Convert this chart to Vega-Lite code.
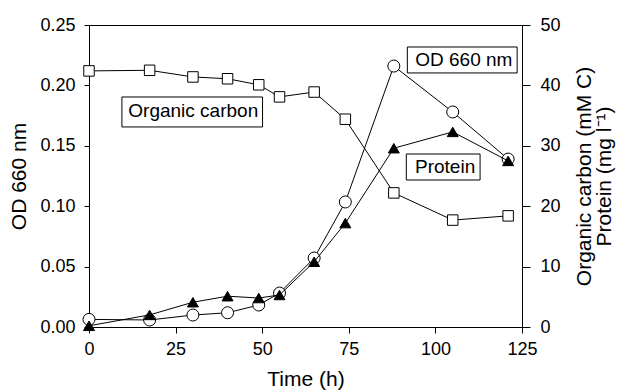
{
  "$schema": "https://vega.github.io/schema/vega-lite/v6.json",
  "width": 433,
  "height": 302,
  "autosize": {"type": "none"},
  "padding": {"left": 89, "top": 25, "right": 100, "bottom": 64},
  "background": "white",
  "config": {
    "font": "Liberation Sans",
    "view": {"stroke": "#000", "strokeWidth": 1},
    "axis": {
      "grid": false,
      "labelFlush": false,
      "labelOverlap": false,
      "domainColor": "#000",
      "tickColor": "#000",
      "labelColor": "#000",
      "titleColor": "#000",
      "labelFontSize": 18,
      "titleFontSize": 21,
      "titleFontWeight": "normal",
      "domainWidth": 1,
      "tickWidth": 1
    }
  },
  "datasets": {
    "od": [
      {"t": 0, "od": 0.0063},
      {"t": 17.5, "od": 0.0058},
      {"t": 30, "od": 0.0099},
      {"t": 40, "od": 0.0118},
      {"t": 49, "od": 0.0182},
      {"t": 55, "od": 0.0281},
      {"t": 65, "od": 0.0571},
      {"t": 74, "od": 0.1035},
      {"t": 88, "od": 0.216},
      {"t": 105, "od": 0.178},
      {"t": 121, "od": 0.139}
    ],
    "carbon": [
      {"t": 0, "carbon": 42.4},
      {"t": 17.5, "carbon": 42.5},
      {"t": 30, "carbon": 41.4},
      {"t": 40, "carbon": 41.1},
      {"t": 49, "carbon": 40.1},
      {"t": 55, "carbon": 38.1},
      {"t": 65, "carbon": 38.9},
      {"t": 74, "carbon": 34.4},
      {"t": 88, "carbon": 22.2},
      {"t": 105, "carbon": 17.7},
      {"t": 121, "carbon": 18.4}
    ],
    "protein": [
      {"t": 0, "protein": 0.2},
      {"t": 17.5, "protein": 2.0},
      {"t": 30, "protein": 4.1},
      {"t": 40, "protein": 5.1},
      {"t": 49, "protein": 4.8},
      {"t": 55, "protein": 5.3},
      {"t": 65, "protein": 10.8},
      {"t": 74, "protein": 17.2},
      {"t": 88, "protein": 29.6},
      {"t": 105, "protein": 32.3},
      {"t": 121, "protein": 27.5}
    ],
    "labels": [
      {"label": "Organic carbon", "t": 9.5, "t2": 50.1, "v": 0.1656, "v2": 0.1904, "tx": 30.1, "vy": 0.1736},
      {"label": "OD 660 nm", "t": 91.9, "t2": 123.6, "v": 0.2103, "v2": 0.2318, "tx": 108.2, "vy": 0.216},
      {"label": "Protein", "t": 91.6, "t2": 112.9, "v": 0.1217, "v2": 0.1432, "tx": 102.8, "vy": 0.1275}
    ]
  },
  "layer": [
    {
      "layer": [
        {
          "data": {"name": "od"},
          "mark": {"type": "line", "color": "#000", "strokeWidth": 1},
          "encoding": {
            "x": {"field": "t", "type": "quantitative", "title": "Time (h)", "scale": {"domain": [0, 125], "nice": false, "zero": false},
              "axis": {"values": [0, 25, 50, 75, 100, 125], "tickSize": 6, "labelPadding": 7, "titlePadding": 10}},
            "y": {"field": "od", "type": "quantitative", "title": "OD 660 nm", "scale": {"domain": [0, 0.25], "nice": false},
              "axis": {"orient": "left", "values": [0, 0.05, 0.1, 0.15, 0.2, 0.25], "format": ".2f", "tickSize": 5, "labelPadding": 9, "titlePadding": 10}}
          }
        },
        {
          "data": {"name": "od"},
          "mark": {"type": "point", "shape": "circle", "filled": true, "fill": "white", "stroke": "#000", "strokeWidth": 1, "size": 144, "opacity": 1},
          "encoding": {
            "x": {"field": "t", "type": "quantitative", "title": "Time (h)"},
            "y": {"field": "od", "type": "quantitative", "title": "OD 660 nm"}
          }
        },
        {
          "data": {"name": "labels"},
          "mark": {"type": "rect", "fill": "white", "stroke": "#000", "strokeWidth": 1},
          "encoding": {
            "x": {"field": "t", "type": "quantitative", "title": "Time (h)"},
            "x2": {"field": "t2"},
            "y": {"field": "v", "type": "quantitative", "title": "OD 660 nm"},
            "y2": {"field": "v2"}
          }
        },
        {
          "data": {"name": "labels"},
          "mark": {"type": "text", "fontSize": 19, "align": "center", "baseline": "alphabetic", "color": "#000", "font": "Liberation Sans"},
          "encoding": {
            "x": {"field": "tx", "type": "quantitative", "title": "Time (h)"},
            "y": {"field": "vy", "type": "quantitative", "title": "OD 660 nm"},
            "text": {"field": "label"}
          }
        }
      ]
    },
    {
      "layer": [
        {
          "data": {"name": "carbon"},
          "mark": {"type": "line", "color": "#000", "strokeWidth": 1},
          "encoding": {
            "x": {"field": "t", "type": "quantitative", "title": "Time (h)"},
            "y": {"field": "carbon", "type": "quantitative", "title": ["Organic carbon (mM C)", "Protein (mg l⁻¹)"], "scale": {"domain": [0, 50], "nice": false},
              "axis": {"orient": "right", "values": [0, 10, 20, 30, 40, 50], "tickSize": 8, "labelPadding": 10, "titlePadding": 14, "titleAngle": 270, "titleLineHeight": 20}}
          }
        },
        {
          "data": {"name": "carbon"},
          "mark": {"type": "point", "shape": "square", "filled": true, "fill": "white", "stroke": "#000", "strokeWidth": 1, "size": 110, "opacity": 1},
          "encoding": {
            "x": {"field": "t", "type": "quantitative", "title": "Time (h)"},
            "y": {"field": "carbon", "type": "quantitative", "title": ["Organic carbon (mM C)", "Protein (mg l⁻¹)"]}
          }
        },
        {
          "data": {"name": "protein"},
          "mark": {"type": "line", "color": "#000", "strokeWidth": 1},
          "encoding": {
            "x": {"field": "t", "type": "quantitative", "title": "Time (h)"},
            "y": {"field": "protein", "type": "quantitative", "title": ["Organic carbon (mM C)", "Protein (mg l⁻¹)"]}
          }
        },
        {
          "data": {"name": "protein"},
          "mark": {"type": "point", "shape": "triangle-up", "filled": true, "fill": "#000", "stroke": "#000", "strokeWidth": 1, "size": 120, "opacity": 1},
          "encoding": {
            "x": {"field": "t", "type": "quantitative", "title": "Time (h)"},
            "y": {"field": "protein", "type": "quantitative", "title": ["Organic carbon (mM C)", "Protein (mg l⁻¹)"]}
          }
        }
      ]
    }
  ],
  "resolve": {"scale": {"y": "independent"}}
}
